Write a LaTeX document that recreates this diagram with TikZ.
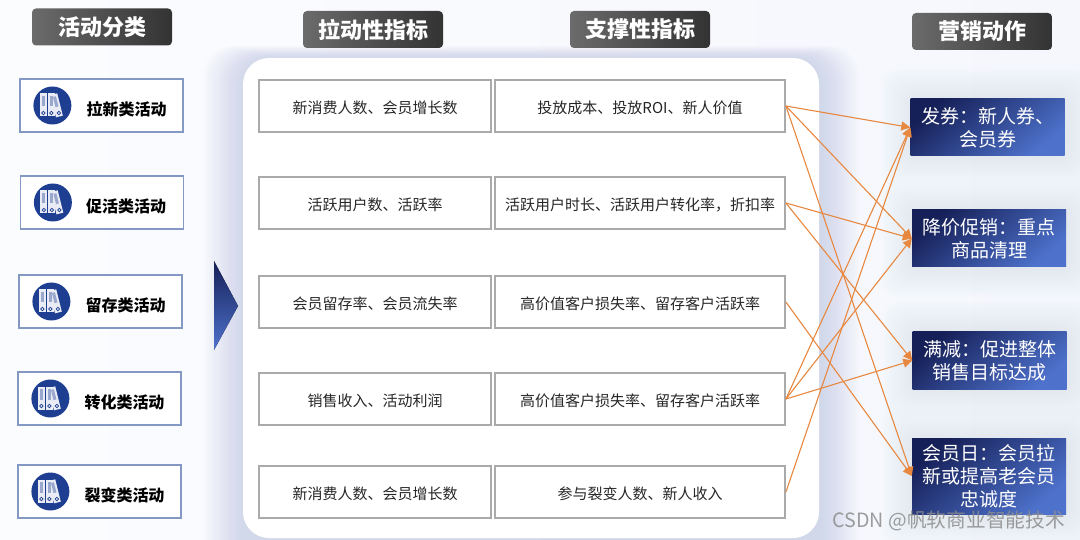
\documentclass[tikz,border=0pt]{standalone}
\usepackage{fontspec}
\usepackage{xcolor}
\setmainfont{Noto Sans CJK SC}
\usetikzlibrary{arrows.meta,calc}
\definecolor{pagewashl}{RGB}{251,252,254}
\definecolor{pagewashr}{RGB}{245,247,253}
\definecolor{glowblue}{RGB}{176,188,224}
\definecolor{navydark}{RGB}{22,32,88}
\definecolor{navylight}{RGB}{78,114,204}
\definecolor{catedge}{RGB}{132,152,196}
\definecolor{celledge}{RGB}{170,170,170}
\definecolor{linkorange}{RGB}{232,136,64}
\definecolor{iconblue}{RGB}{30,62,146}
\tikzset{
  headbox/.style={rounded corners=4pt, minimum width=140pt, minimum height=37pt, inner sep=0pt,
    left color=black!58, right color=black!80, text=white, font=\fontsize{22}{24}\selectfont\bfseries},
  catbox/.style={draw=catedge, line width=1.2pt, fill=white, minimum width=163pt, minimum height=53pt, inner sep=0pt},
  cattext/.style={font=\fontsize{16}{18}\selectfont\bfseries, inner sep=0pt, yshift=-3.5pt},
  cellbox/.style={draw=celledge, line width=1.8pt, fill=white, minimum height=52pt, inner sep=0pt,
    text height=16.5pt, text depth=1pt, font=\fontsize{15}{18}\selectfont, text=black!85},
  firstcell/.style={cellbox, minimum width=232pt},
  secondcell/.style={cellbox, minimum width=290pt},
  actbox/.style={minimum width=154pt, inner sep=0pt, align=center, text=white,
    top color=navydark, bottom color=navylight, shading angle=40,
    font=\fontsize{19}{23}\selectfont, execute at begin node={\rule{0pt}{22.5pt}}},
  link/.style={linkorange, line width=1.1pt, -{Triangle[length=9pt,width=9pt]}},
  binders/.pic={
    \fill[iconblue] (0,0) circle (19);
    \fill[white!90!iconblue] (-12.5,-12) rectangle (-5.5,11);
    \fill[white!90!iconblue] (-4.5,-12) rectangle (2.5,11);
    \fill[white!90!iconblue, rotate around={14:(7,11)}] (3.5,-12) rectangle (10.5,11);
    \fill[white!55!iconblue] (-10.5,-9.5) rectangle (-7.5,1);
    \fill[white!55!iconblue] (-2.5,-9.5) rectangle (0.5,1);
    \fill[white!55!iconblue, rotate around={14:(7,11)}] (5.5,-9.5) rectangle (8.5,1);
    \draw[iconblue, line width=0.7pt] (-9,7.5) circle (1.7) (-1,7.5) circle (1.7) (6.5,7.5) circle (1.7);
  },
}

\begin{document}
\begin{tikzpicture}[x=1pt, y=-1pt]
    \useasboundingbox (0,0) rectangle (1080,540);
    \clip (0,0) rectangle (1080,540);
    % page and soft glows
    \fill[left color=pagewashl, right color=pagewashr] (0,0) rectangle (1080,540);
    \foreach \g in {2,4,...,40} {
        \fill[glowblue, opacity=0.028, rounded corners=30pt] (243-\g,58-0.3*\g) rectangle (819+\g,600);
    }
    \foreach \g in {2,4,...,30} {
        \fill[glowblue, opacity=0.014, rounded corners=14pt] (911-\g,99-\g) rectangle (1064+\g,156+\g);
        \fill[glowblue, opacity=0.014, rounded corners=14pt] (912-\g,210-\g) rectangle (1066+\g,267+\g);
        \fill[glowblue, opacity=0.014, rounded corners=14pt] (913-\g,332-\g) rectangle (1066+\g,389+\g);
        \fill[glowblue, opacity=0.014, rounded corners=14pt] (912-\g,438-\g) rectangle (1066+\g,514+\g);
    }
    \fill[white, rounded corners=26pt] (243,58) rectangle (819,538);

    % column heads
    \node[headbox] (headcat) at (102,27) {活动分类};
    \node[headbox] (headpull) at (373,29.5) {拉动性指标};
    \node[headbox] (headprop) at (640,29.5) {支撑性指标};
    \node[headbox] (headact) at (982,31.5) {营销动作};

    % activity types
    \node[catbox] (cat1) at (101.5,105.5) {};
    \node[catbox] (cat2) at (102,202.5) {};
    \node[catbox] (cat3) at (100.5,301.5) {};
    \node[catbox] (cat4) at (99.5,398.5) {};
    \node[catbox] (cat5) at (99.5,491.5) {};
    \pic at ([xshift=33pt]cat1.west) {binders};
    \pic at ([xshift=33pt]cat2.west) {binders};
    \pic at ([xshift=33pt]cat3.west) {binders};
    \pic at ([xshift=33pt]cat4.west) {binders};
    \pic at ([xshift=33pt]cat5.west) {binders};
    \node[cattext] (cattext1) at ([xshift=25pt]cat1.center) {拉新类活动};
    \node[cattext] (cattext2) at ([xshift=24pt]cat2.center) {促活类活动};
    \node[cattext] (cattext3) at ([xshift=25pt]cat3.center) {留存类活动};
    \node[cattext] (cattext4) at ([xshift=25pt]cat4.center) {转化类活动};
    \node[cattext] (cattext5) at ([xshift=25pt]cat5.center) {裂变类活动};

    % arrow between the columns
    \fill[top color=navydark, bottom color=navylight] (214,261) -- (238,306) -- (214,350) -- cycle;

    % indicator table
    \node[firstcell] (pull1) at (375,106) {新消费人数、会员增长数};
    \node[firstcell] (pull2) at (375,203) {活跃用户数、活跃率};
    \node[firstcell] (pull3) at (375,302) {会员留存率、会员流失率};
    \node[firstcell] (pull4) at (375,399) {销售收入、活动利润};
    \node[firstcell] (pull5) at (375,492) {新消费人数、会员增长数};
    \node[secondcell] (prop1) at (640,106) {投放成本、投放ROI、新人价值};
    \node[secondcell] (prop2) at (640,203) {活跃用户时长、活跃用户转化率，折扣率};
    \node[secondcell] (prop3) at (640,302) {高价值客户损失率、留存客户活跃率};
    \node[secondcell] (prop4) at (640,399) {高价值客户损失率、留存客户活跃率};
    \node[secondcell] (prop5) at (640,492) {参与裂变人数、新人收入};

    % marketing actions
    \node[actbox, minimum height=57pt] (act1) at (987.5,127.5) {发券：新人券、\\会员券};
    \node[actbox, minimum height=57pt] (act2) at (989,238.5) {降价促销：重点\\商品清理};
    \node[actbox, minimum height=57pt] (act3) at (989.5,360.5) {满减：促进整体\\销售目标达成};
    \node[actbox, minimum height=76pt] (act4) at (989,476) {会员日：会员拉\\新或提高老会员\\忠诚度};

    % links
    \draw[link] (prop1.east) -- (act1.west);
    \draw[link] (prop1.east) -- (act2.west);
    \draw[link] (prop1.east) -- (act4.west);
    \draw[link] (prop2.east) -- (act2.west);
    \draw[link] (prop2.east) -- (act3.west);
    \draw[link] (prop3.east) -- (act4.west);
    \draw[link] (prop4.east) -- (act1.west);
    \draw[link] (prop4.east) -- (act2.west);
    \draw[link] (prop4.east) -- (act3.west);
    \draw[link] (prop5.east) -- (act1.west);

    \node[text=black!45, opacity=0.85, font=\fontsize{19.7}{21}\selectfont, anchor=east, inner sep=0pt] (mark) at (1065,521) {CSDN @帆软商业智能技术};
\end{tikzpicture}
\end{document}
